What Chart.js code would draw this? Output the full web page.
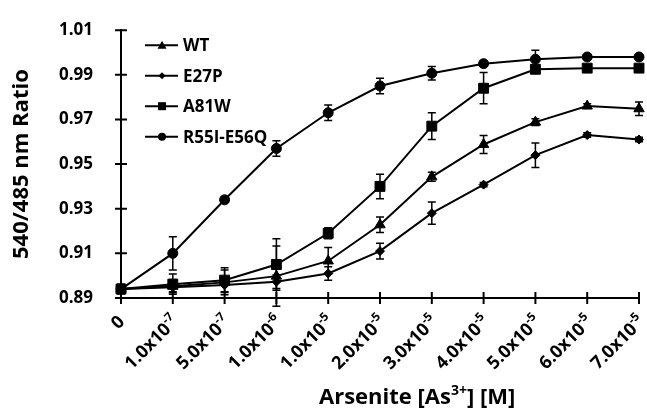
<!DOCTYPE html>
<html>
<head>
<meta charset="utf-8">
<script src="https://cdn.jsdelivr.net/npm/chart.js@4.4.1/dist/chart.umd.min.js"></script>
<style>
  html, body { margin: 0; padding: 0; background: #fff; }
  #wrap { width: 647px; height: 410px; position: relative; }
</style>
</head>
<body>
<div id="wrap"><canvas id="ratioChart"></canvas></div>
<script>
// arsenite concentrations (label text split so the exponent can be raised)
const doseBase = ['0', '1.0x10', '5.0x10', '1.0x10', '1.0x10', '2.0x10', '3.0x10', '4.0x10', '5.0x10', '6.0x10', '7.0x10'];
const doseExp  = ['', '-7', '-7', '-6', '-5', '-5', '-5', '-5', '-5', '-5', '-5'];
const yTicks = [0.89, 0.91, 0.93, 0.95, 0.97, 0.99, 1.01];

// 540/485 nm ratio per sensor variant, with error bar half-widths
const wt      = [0.894, 0.8953, 0.8970, 0.8998, 0.9066, 0.9228, 0.9443, 0.9588, 0.9688, 0.9760, 0.9748];
const wtErr   = [0.002, 0.003, 0.0055, 0.0135, 0.006, 0.0035, 0.002, 0.004, 0.0015, 0.001, 0.003];
const e27p    = [0.894, 0.8948, 0.8958, 0.8973, 0.9010, 0.9110, 0.9280, 0.9408, 0.9540, 0.9630, 0.9610];
const e27pErr = [0.002, 0.002, 0.003, 0.003, 0.003, 0.0035, 0.005, 0.001, 0.0055, 0.001, 0.001];
const a81w    = [0.894, 0.8962, 0.8980, 0.9050, 0.9190, 0.9400, 0.9670, 0.9840, 0.9925, 0.9930, 0.9930];
const a81wErr = [0.002, 0.0045, 0.0055, 0.0115, 0.0025, 0.0055, 0.006, 0.007, 0.001, 0.0008, 0.0008];
const r55i    = [0.894, 0.9100, 0.9340, 0.9570, 0.9730, 0.9850, 0.9907, 0.9950, 0.9970, 0.9980, 0.9980];
const r55iErr = [0.002, 0.0075, 0.001, 0.0035, 0.0035, 0.0035, 0.003, 0.001, 0.004, 0.0008, 0.0008];

const FONT = '"Open Sans", "DejaVu Sans", sans-serif';

function series(label, data, err, style, radius) {
    return {
        label: label,
        data: data,
        errors: err,
        borderColor: '#000',
        backgroundColor: '#000',
        borderWidth: 2,
        pointStyle: style,
        pointRadius: radius,
        pointBackgroundColor: '#000',
        pointBorderColor: '#000',
        pointBorderWidth: 1,
        tension: 0
    };
}

const datasets = [
    series('WT', wt, wtErr, 'triangle', 6),
    series('E27P', e27p, e27pErr, 'rectRot', 4.5),
    series('A81W', a81w, a81wErr, 'rect', 7),
    series('R55I-E56Q', r55i, r55iErr, 'circle', 5)
];

// small legend marker shapes
function marker(ctx, style, x, y, r) {
    ctx.beginPath();
    if (style === 'circle') {
        ctx.arc(x, y, r, 0, Math.PI * 2);
    } else if (style === 'rect') {
        ctx.rect(x - r, y - r, 2 * r, 2 * r);
    } else if (style === 'triangle') {
        ctx.moveTo(x, y - r);
        ctx.lineTo(x + r, y + r * 0.8);
        ctx.lineTo(x - r, y + r * 0.8);
        ctx.closePath();
    } else {
        ctx.moveTo(x, y - r);
        ctx.lineTo(x + r, y);
        ctx.lineTo(x, y + r);
        ctx.lineTo(x - r, y);
        ctx.closePath();
    }
    ctx.fill();
}

const decor = {
    id: 'decor',
    afterDatasetsDraw(chart) {
        // error bars
        const ctx = chart.ctx;
        const yScale = chart.scales.y;
        ctx.save();
        ctx.strokeStyle = '#000';
        ctx.lineWidth = 1.5;
        chart.data.datasets.forEach((ds, di) => {
            const meta = chart.getDatasetMeta(di);
            meta.data.forEach((pt, i) => {
                const e = ds.errors[i];
                const top = yScale.getPixelForValue(ds.data[i] + e);
                const bot = yScale.getPixelForValue(ds.data[i] - e);
                ctx.beginPath();
                ctx.moveTo(pt.x, top); ctx.lineTo(pt.x, bot);
                ctx.moveTo(pt.x - 4, top); ctx.lineTo(pt.x + 4, top);
                ctx.moveTo(pt.x - 4, bot); ctx.lineTo(pt.x + 4, bot);
                ctx.stroke();
            });
        });
        ctx.restore();
    },
    afterDraw(chart) {
        const ctx = chart.ctx;
        const area = chart.chartArea;
        const xScale = chart.scales.x;
        const yScale = chart.scales.y;
        ctx.save();
        ctx.strokeStyle = '#000';
        ctx.fillStyle = '#000';
        ctx.lineWidth = 2;

        // tick marks crossing both axes
        ctx.beginPath();
        yTicks.forEach(v => {
            const y = yScale.getPixelForValue(v);
            ctx.moveTo(area.left - 6, y); ctx.lineTo(area.left + 6, y);
        });
        doseBase.forEach((d, i) => {
            const x = xScale.getPixelForValue(i);
            ctx.moveTo(x, area.bottom - 6); ctx.lineTo(x, area.bottom + 6);
        });
        ctx.stroke();

        // rotated category labels with superscript exponents
        doseBase.forEach((base, i) => {
            const x = xScale.getPixelForValue(i);
            const exp = doseExp[i];
            ctx.save();
            ctx.translate(x + (exp ? 3 : 1), area.bottom + 21);
            ctx.rotate(-Math.PI / 4);
            ctx.textAlign = 'right';
            ctx.textBaseline = 'middle';
            let ew = 0;
            if (exp) {
                ctx.font = 'bold 12px ' + FONT;
                ew = ctx.measureText(exp).width;
                ctx.fillText(exp, 0, -6);
            }
            ctx.font = 'bold 18px ' + FONT;
            ctx.fillText(base, -ew, 0);
            ctx.restore();
        });

        // axis titles
        ctx.save();
        ctx.translate(22, (area.top + area.bottom) / 2);
        ctx.rotate(-Math.PI / 2);
        ctx.font = 'bold 22px ' + FONT;
        ctx.textAlign = 'center';
        ctx.textBaseline = 'middle';
        ctx.fillText('540/485 nm Ratio', 0, 0);
        ctx.restore();

        ctx.textAlign = 'left';
        ctx.textBaseline = 'alphabetic';
        let tx = 319;
        const ty = 404;
        const parts = [['Arsenite [As', 22, 0], ['3+', 14, -9], ['] [M]', 22, 0]];
        parts.forEach(p => {
            ctx.font = 'bold ' + p[1] + 'px ' + FONT;
            ctx.fillText(p[0], tx, ty + p[2]);
            tx += ctx.measureText(p[0]).width;
        });

        // legend: line with marker, then name
        const legendR = { triangle: 4.5, rectRot: 3.5, rect: 4, circle: 4 };
        chart.data.datasets.forEach((ds, i) => {
            const y = area.top + 15 + i * 30.5;
            const lx = area.left + 24;
            ctx.beginPath();
            ctx.moveTo(lx, y); ctx.lineTo(lx + 33, y);
            ctx.stroke();
            marker(ctx, ds.pointStyle, lx + 17, y, legendR[ds.pointStyle]);
            ctx.font = 'bold 17px ' + FONT;
            ctx.textBaseline = 'middle';
            ctx.fillText(ds.label, lx + 38, y + 1);
        });
        ctx.restore();
    }
};

new Chart(document.getElementById('ratioChart'), {
    type: 'line',
    data: {
        labels: doseBase.map((b, i) => b + doseExp[i]),
        datasets: datasets
    },
    options: {
        responsive: true,
        maintainAspectRatio: false,
        animation: false,
        layout: { padding: { top: 24, right: 5, left: 0, bottom: 0 } },
        plugins: {
            legend: { display: false },
            tooltip: { enabled: false }
        },
        scales: {
            x: {
                offset: false,
                grid: { display: false },
                border: { color: '#000', width: 2 },
                ticks: { display: false },
                afterFit: s => { s.height = 112; }
            },
            y: {
                min: 0.89,
                max: 1.01,
                grid: { display: false },
                border: { color: '#000', width: 2 },
                afterBuildTicks: s => { s.ticks = yTicks.map(v => ({ value: v })); },
                ticks: {
                    color: '#000',
                    padding: 20,
                    font: { family: FONT, size: 17, weight: 'bold' },
                    callback: v => v.toFixed(2)
                },
                afterFit: s => { s.width = 121; }
            }
        }
    },
    plugins: [decor]
});
</script>
</body>
</html>
